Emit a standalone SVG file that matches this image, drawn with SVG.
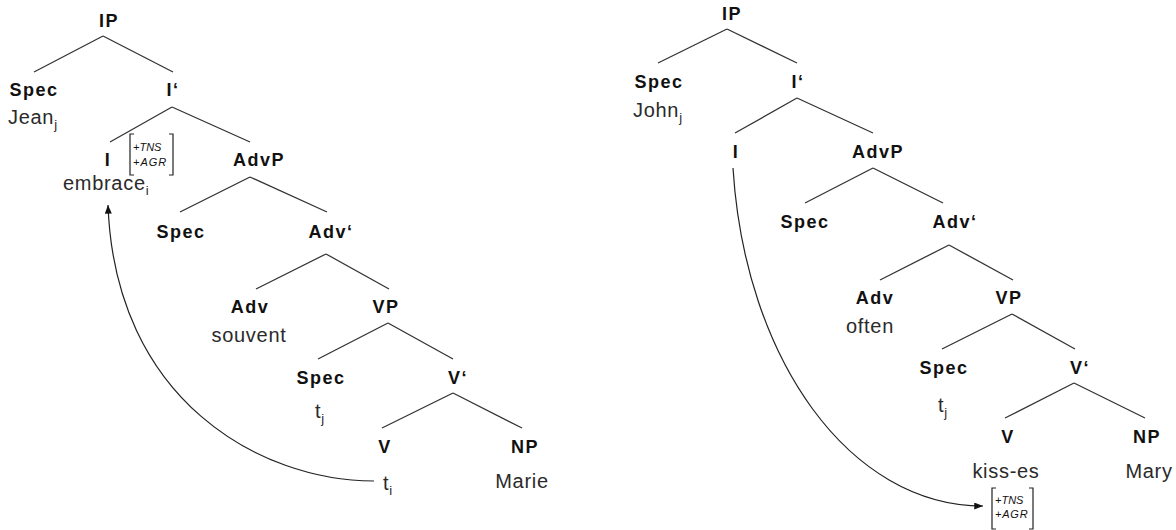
<svg xmlns="http://www.w3.org/2000/svg" width="1176" height="530" viewBox="0 0 1176 530">
<style>
.lab{font-family:"Liberation Sans",Arial,sans-serif;font-weight:bold;font-size:18px;letter-spacing:1.5px;fill:#111;text-anchor:middle}
.wd{font-family:"Liberation Sans",Arial,sans-serif;font-size:20px;letter-spacing:0.7px;fill:#2a2a2a}
.wdm{text-anchor:middle}
.sub{font-size:13px}
.feat{font-family:"Liberation Sans",Arial,sans-serif;font-style:italic;font-size:11px;fill:#111}
.br{fill:none;stroke:#222;stroke-width:1.2}
.edge line{stroke:#333;stroke-width:1.3}
.mv{fill:none;stroke:#222;stroke-width:1.2}
</style>
<defs>
<marker id="ah" viewBox="0 0 10 8" refX="10" refY="4" markerWidth="9" markerHeight="7" markerUnits="userSpaceOnUse" orient="auto">
<path d="M0,0 L10,4 L0,8 Z" fill="#111"/>
</marker>
</defs>
<rect width="1176" height="530" fill="#fff"/>

<g id="connectors" class="edge">
<line x1="103" y1="36" x2="34" y2="72"/><line x1="103" y1="36" x2="173" y2="72"/>
<line x1="172" y1="107" x2="110" y2="142"/><line x1="172" y1="107" x2="250" y2="142"/>
<line x1="250" y1="177" x2="180" y2="212"/><line x1="250" y1="177" x2="327" y2="212"/>
<line x1="326" y1="254" x2="256" y2="289"/><line x1="326" y1="254" x2="389" y2="289"/>
<line x1="388" y1="323" x2="318" y2="359"/><line x1="388" y1="323" x2="453" y2="359"/>
<line x1="453" y1="393" x2="382" y2="428"/><line x1="453" y1="393" x2="522" y2="428"/>

<line x1="727" y1="29" x2="658" y2="63"/><line x1="727" y1="29" x2="797" y2="63"/>
<line x1="797" y1="98" x2="735" y2="133"/><line x1="797" y1="98" x2="873" y2="133"/>
<line x1="873" y1="168" x2="805" y2="203"/><line x1="873" y1="168" x2="943" y2="203"/>
<line x1="949" y1="245" x2="880" y2="280"/><line x1="949" y1="245" x2="1013" y2="280"/>
<line x1="1012" y1="314" x2="942" y2="349"/><line x1="1012" y1="314" x2="1075" y2="349"/>
<line x1="1074" y1="383" x2="1005" y2="418"/><line x1="1074" y1="383" x2="1145" y2="418"/>
<path id="move-left" class="mv" d="M374,481 C260,481 115,400 108,205" marker-end="url(#ah)"/>
<path id="move-right" class="mv" d="M733,168 C745,360 850,506 983,506" marker-end="url(#ah)"/>
</g>

<!-- Left tree -->
<g id="L-IP"><text class="lab" x="109" y="27">IP</text></g>
<g id="L-Spec1"><text class="lab" x="34" y="96">Spec</text><text class="wd" x="8" y="124">Jean<tspan class="sub" dy="5">j</tspan></text></g>
<g id="L-Ibar"><text class="lab" x="173" y="96">I‘</text></g>
<g id="L-I"><text class="lab" x="108" y="166">I</text>
<path class="br" d="M134,134 H130 V175 H134 M169,134 H173 V175 H169"/>
<text class="feat" x="133" y="151">+TNS</text>
<text class="feat" x="133" y="166" letter-spacing="1">+AGR</text>
<text class="wd" x="63" y="190">embrace<tspan class="sub" dy="5">i</tspan></text></g>
<g id="L-AdvP"><text class="lab" x="259" y="166">AdvP</text></g>
<g id="L-Spec2"><text class="lab" x="181" y="238">Spec</text></g>
<g id="L-Advbar"><text class="lab" x="331" y="238">Adv‘</text></g>
<g id="L-Adv"><text class="lab" x="250" y="313">Adv</text><text class="wd wdm" x="249" y="342">souvent</text></g>
<g id="L-VP"><text class="lab" x="386" y="313">VP</text></g>
<g id="L-Spec3"><text class="lab" x="321" y="384">Spec</text><text class="wd" x="315" y="418">t<tspan class="sub" dy="5">j</tspan></text></g>
<g id="L-Vbar"><text class="lab" x="458" y="384">V‘</text></g>
<g id="L-V"><text class="lab" x="385" y="453">V</text><text class="wd" x="383" y="490">t<tspan class="sub" dy="5">i</tspan></text></g>
<g id="L-NP"><text class="lab" x="525" y="453">NP</text><text class="wd wdm" x="522" y="488">Marie</text></g>

<!-- Right tree -->
<g id="R-IP"><text class="lab" x="732" y="20">IP</text></g>
<g id="R-Spec1"><text class="lab" x="659" y="88">Spec</text><text class="wd" x="633" y="117">John<tspan class="sub" dy="5">j</tspan></text></g>
<g id="R-Ibar"><text class="lab" x="798" y="88">I‘</text></g>
<g id="R-I"><text class="lab" x="736" y="158">I</text></g>
<g id="R-AdvP"><text class="lab" x="878" y="158">AdvP</text></g>
<g id="R-Spec2"><text class="lab" x="805" y="228">Spec</text></g>
<g id="R-Advbar"><text class="lab" x="955" y="228">Adv‘</text></g>
<g id="R-Adv"><text class="lab" x="875" y="304">Adv</text><text class="wd wdm" x="870" y="333">often</text></g>
<g id="R-VP"><text class="lab" x="1009" y="304">VP</text></g>
<g id="R-Spec3"><text class="lab" x="944" y="374">Spec</text><text class="wd" x="938" y="412">t<tspan class="sub" dy="5">j</tspan></text></g>
<g id="R-Vbar"><text class="lab" x="1080" y="374">V‘</text></g>
<g id="R-V"><text class="lab" x="1008" y="443">V</text><text class="wd wdm" x="1006" y="478">kiss-es</text>
<path class="br" d="M996,488 H992 V529 H996 M1029,488 H1033 V529 H1029"/>
<text class="feat" x="995" y="504">+TNS</text>
<text class="feat" x="995" y="518" letter-spacing="0.8">+AGR</text></g>
<g id="R-NP"><text class="lab" x="1147" y="443">NP</text><text class="wd wdm" x="1149" y="478">Mary</text></g>
</svg>
